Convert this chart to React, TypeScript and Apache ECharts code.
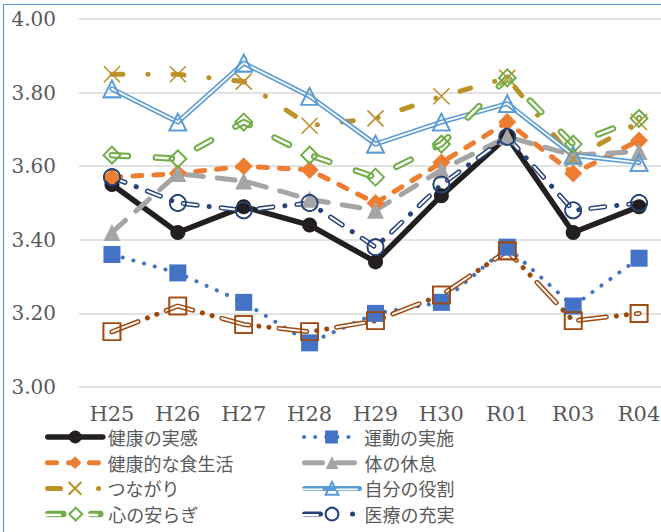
import React, { useEffect, useRef } from "react";
import * as echarts from "echarts";

// Survey years on the category axis
const categories = ["H25", "H26", "H27", "H28", "H29", "H30", "R01", "R03", "R04"];

// Average scores per item
const jikkan = [3.55, 3.42, 3.49, 3.44, 3.34, 3.52, 3.68, 3.42, 3.49];
const undou = [3.36, 3.31, 3.23, 3.12, 3.2, 3.23, 3.38, 3.22, 3.35];
const shokuseikatsu = [3.57, 3.58, 3.6, 3.59, 3.5, 3.61, 3.72, 3.58, 3.67];
const kyusoku = [3.42, 3.58, 3.56, 3.51, 3.48, 3.59, 3.68, 3.63, 3.64];
const tsunagari = [3.85, 3.85, 3.83, 3.71, 3.73, 3.79, 3.84, 3.62, 3.72];
const yakuwari = [3.81, 3.72, 3.88, 3.79, 3.66, 3.72, 3.77, 3.63, 3.61];
const yasuragi = [3.63, 3.62, 3.72, 3.63, 3.57, 3.66, 3.84, 3.66, 3.73];
const iryou = [3.57, 3.5, 3.48, 3.5, 3.38, 3.55, 3.68, 3.48, 3.5];
const series9 = [3.15, 3.22, 3.17, 3.15, 3.18, 3.25, 3.37, 3.18, 3.2];

// Value axis range
const yMin = 3.0;
const yMax = 4.0;
const yStep = 0.2;

const names = {
  jikkan: "健康の実感",
  undou: "運動の実施",
  shoku: "健康的な食生活",
  kyusoku: "体の休息",
  tsunagari: "つながり",
  yakuwari: "自分の役割",
  yasuragi: "心の安らぎ",
  iryou: "医療の充実",
  s9: "系列9",
};

const C = {
  black: "#231f20",
  blue: "#4472c4",
  orange: "#ed7d31",
  gray: "#a5a5a5",
  gold: "#bb9128",
  lightBlue: "#5b9bd5",
  green: "#70ad47",
  navy: "#264478",
  brown: "#9e480e",
};

const CROSS = "path://M0,0L20,20M20,0L0,20";

const TEXT = "#595959";
const CJK = "'Noto Sans CJK JP', sans-serif";
const SERIF = "'DejaVu Serif', serif";

const noHover = { disabled: true };

function filledLine(name: string, data: number[], color: string, width: number, type: any, symbol: string, size: number) {
  return {
    type: "line",
    name,
    data,
    symbol,
    symbolSize: size,
    lineStyle: { color, width, type, cap: "round", join: "round" },
    itemStyle: { color },
    emphasis: noHover,
  };
}

function hollowLine(name: string, data: number[], color: string, width: number, type: any, symbol: string, size: number) {
  return {
    type: "line",
    name,
    data,
    symbol,
    symbolSize: size,
    lineStyle: { color, width, type, cap: "round", join: "round" },
    itemStyle: { color: "transparent", borderColor: color, borderWidth: 1.6 },
    emphasis: noHover,
  };
}

// Double (compound) lines: a wide coloured stroke, a thin white core on top,
// then the markers again so their outlines stay above the core.
function doubleLine(name: string, data: number[], color: string, outer: number, inner: number, outerType: any, innerType: any, symbol: string, size: number) {
  return [
    hollowLine(name, data, color, outer, outerType, symbol, size),
    {
      type: "line",
      name: name + "-core",
      data,
      symbol: "none",
      lineStyle: { color: "#ffffff", width: inner, type: innerType, cap: "round", join: "round" },
      emphasis: noHover,
    },
    {
      type: "line",
      name: name + "-marks",
      data,
      symbol,
      symbolSize: size,
      lineStyle: { width: 0, opacity: 0 },
      itemStyle: { color: "transparent", borderColor: color, borderWidth: 1.6 },
      emphasis: noHover,
    },
  ];
}

const series: any[] = [
  filledLine(names.jikkan, jikkan, C.black, 5.5, "solid", "circle", 15),
  filledLine(names.undou, undou, C.blue, 4, [0.1, 11], "rect", 17),
  filledLine(names.shoku, shokuseikatsu, C.orange, 5, [9, 12], "diamond", 18),
  filledLine(names.kyusoku, kyusoku, C.gray, 5, [18, 14], "triangle", 17),
  hollowLine(names.tsunagari, tsunagari, C.gold, 5, [11, 25, 0.1, 25], CROSS, 16),
  ...doubleLine(names.yakuwari, yakuwari, C.lightBlue, 5, 1.8, "solid", "solid", "triangle", 17),
  ...doubleLine(names.yasuragi, yasuragi, C.green, 6.5, 2.5, [16, 28], [16, 28], "diamond", 17),
  ...doubleLine(names.iryou, iryou, C.navy, 5, 2, [14, 12, 0.1, 12], [14, 24.1], "circle", 16),
  ...doubleLine(names.s9, series9, C.brown, 5, 2, [28, 10, 0.1, 10, 0.1, 10], [28, 30.2], "rect", 17),
];

// Legend geometry: two columns, four rows
const LEG_TOP = 429;
const LEG_PITCH = 25.7;
const LEG_LEFT_A = 45;
const LEG_LEFT_B = 302;
const ICON_W = 55;
const ICON_H = 16;
const rowY = (i: number) => LEG_TOP + 9 + i * LEG_PITCH;

const GREEN_ICON_DASH = [15, 28, 9, 10];

const legendText = { color: TEXT, fontSize: 18, fontFamily: CJK };

const legendEntries: { item: any; col: number; row: number }[] = [
  { item: names.jikkan, col: 0, row: 0 },
  { item: names.undou, col: 1, row: 0 },
  { item: names.shoku, col: 0, row: 1 },
  { item: names.kyusoku, col: 1, row: 1 },
  { item: { name: names.tsunagari, lineStyle: { type: [13, 38, 0.1, 20] } }, col: 0, row: 2 },
  { item: names.yakuwari, col: 1, row: 2 },
  { item: { name: names.yasuragi, lineStyle: { type: GREEN_ICON_DASH } }, col: 0, row: 3 },
  { item: { name: names.iryou, lineStyle: { type: [16, 32, 0.1, 20] } }, col: 1, row: 3 },
];

const legends = legendEntries.map((e) => ({
  left: e.col === 0 ? LEG_LEFT_A : LEG_LEFT_B,
  top: rowY(e.row) - 10,
  orient: "horizontal",
  itemWidth: ICON_W,
  itemHeight: ICON_H,
  selectedMode: false,
  padding: 0,
  lineStyle: { width: "inherit" },
  textStyle: legendText,
  data: [e.item],
}));

// White cores for the double-line legend icons
const legendCores = [
  { x1: LEG_LEFT_B, x2: LEG_LEFT_B + 20, y: rowY(2), dash: null, w: 1.8 },
  { x1: LEG_LEFT_B + 35, x2: LEG_LEFT_B + ICON_W, y: rowY(2), dash: null, w: 1.8 },
  { x1: LEG_LEFT_A, x2: LEG_LEFT_A + ICON_W, y: rowY(3), dash: GREEN_ICON_DASH, w: 2.5 },
  { x1: LEG_LEFT_B, x2: LEG_LEFT_B + 16, y: rowY(3), dash: null, w: 2 },
];

const option: any = {
  animation: false,
  backgroundColor: "#ffffff",
  grid: { left: 79, top: 19, width: 593, height: 368, containLabel: false },
  xAxis: {
    type: "category",
    data: categories,
    boundaryGap: true,
    axisLine: { show: false },
    axisTick: { show: false },
    axisLabel: { color: TEXT, fontSize: 21, fontFamily: SERIF, margin: 16 },
  },
  yAxis: {
    type: "value",
    min: yMin,
    max: yMax,
    interval: yStep,
    axisLine: { show: false },
    axisTick: { show: false },
    axisLabel: {
      color: TEXT,
      fontSize: 20,
      fontFamily: SERIF,
      margin: 23,
      formatter: (v: number) => v.toFixed(2),
    },
    splitLine: { lineStyle: { color: "#d9d9d9", width: 1.5 } },
  },
  legend: legends,
  graphic: [
    {
      type: "rect",
      silent: true,
      z: -1,
      shape: { x: 3.5, y: 4.5, width: 720, height: 620 },
      style: { fill: "none", stroke: C.lightBlue, lineWidth: 1.2 },
    },
    ...legendCores.map((c) => ({
      type: "line",
      silent: true,
      z: 100,
      shape: { x1: c.x1, y1: c.y, x2: c.x2, y2: c.y },
      style: {
        stroke: "#ffffff",
        lineWidth: c.w,
        lineDash: c.dash ?? undefined,
        lineCap: "round",
      },
    })),
  ],
  series,
};

export default function App() {
  const ref = useRef<HTMLDivElement>(null);
  useEffect(() => {
    if (!ref.current) return;
    const chart = echarts.init(ref.current, null, { renderer: "svg" });
    chart.setOption(option);
    return () => chart.dispose();
  }, []);
  return (
    <div
      style={{
        position: "fixed",
        left: 0,
        top: 0,
        width: 661,
        height: 532,
        overflow: "hidden",
        background: "#ffffff",
      }}
    >
      <div ref={ref} style={{ width: 720, height: 532 }} />
    </div>
  );
}
